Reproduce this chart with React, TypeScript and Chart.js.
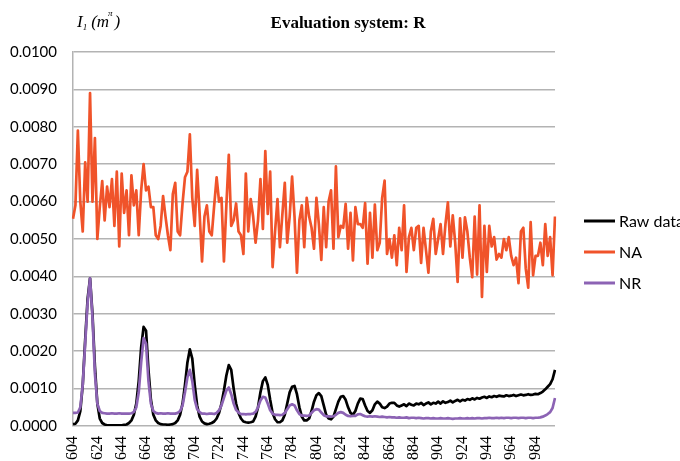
import React, { useEffect, useRef } from "react";
import { Chart, registerables } from "chart.js";

Chart.register(...registerables);

// Wavelength categories: 604 .. 1000 in steps of 2
const START_WL = 604;
const STEP_WL = 2;

const rawData = [
  0.00005, 0.00006, 0.00015, 0.0004, 0.0011, 0.0023, 0.0034, 0.00395, 0.003, 0.0016,
  0.0006, 0.0002, 0.00008, 0.00004, 0.00002, 0.00002, 0.00002, 0.00002, 0.00002, 0.00002,
  0.00002, 0.00003, 0.00004, 0.00008, 0.00015, 0.0003, 0.0006, 0.0012, 0.0021, 0.00265,
  0.00255, 0.0015, 0.0007, 0.0003, 0.00015, 0.00008, 0.00005, 0.00004, 0.00004, 0.00003,
  0.00004, 0.00005, 0.00008, 0.00015, 0.0003, 0.0006, 0.0011, 0.0017, 0.00205, 0.0018,
  0.0011, 0.00055, 0.00025, 0.00012, 0.00007, 0.00005, 0.00006, 0.00008, 0.00012, 0.0002,
  0.00035, 0.0006, 0.00095, 0.00135, 0.00163, 0.0015, 0.001, 0.0006, 0.00035, 0.0002,
  0.00012, 0.0001, 0.00009, 0.0001, 0.00012, 0.00025, 0.0005, 0.0009, 0.0012, 0.0013,
  0.0011, 0.0007, 0.00035, 0.00018, 0.0001, 0.0001, 0.00015, 0.0003, 0.0006, 0.0009,
  0.00105, 0.00107, 0.00085, 0.0005, 0.00025, 0.00015, 0.00015, 0.0002, 0.0004, 0.00065,
  0.00082, 0.00088, 0.0008, 0.00055, 0.0003, 0.0002, 0.00018, 0.00025, 0.00045, 0.00065,
  0.00078, 0.0008, 0.0007, 0.0005, 0.00035, 0.0003, 0.0004, 0.0006, 0.00073, 0.00072,
  0.00055, 0.0004, 0.00035, 0.00042, 0.00058, 0.00065, 0.0006, 0.0005, 0.00048, 0.00052,
  0.0006, 0.00062, 0.00062, 0.00055, 0.00052, 0.00055, 0.00058, 0.00053, 0.0006, 0.00057,
  0.00055, 0.0006, 0.00058, 0.00062, 0.00056, 0.0006, 0.00063, 0.00058, 0.00062, 0.0006,
  0.00065, 0.0006, 0.00066, 0.00062, 0.00064, 0.00068, 0.00063, 0.00067, 0.0007, 0.00066,
  0.0007, 0.00068, 0.00072, 0.0007, 0.00074, 0.00071, 0.00075, 0.00073, 0.00076, 0.00078,
  0.00075, 0.00079, 0.00077, 0.0008, 0.00078, 0.00081, 0.0008, 0.00079, 0.00082, 0.0008,
  0.00081, 0.00083, 0.0008, 0.00082, 0.00084, 0.00082, 0.00083, 0.00085, 0.00083, 0.00084,
  0.00086, 0.00085, 0.00088, 0.00092, 0.00098, 0.00105, 0.00112, 0.00125, 0.0015,
];

const naData = [
  0.00554, 0.0059, 0.0079, 0.006, 0.0052, 0.00705, 0.006, 0.0089, 0.006, 0.0077,
  0.005, 0.00585, 0.00655, 0.0055, 0.0064, 0.00585, 0.0066, 0.00535, 0.0068, 0.0048,
  0.00675, 0.0057, 0.0063, 0.0051, 0.0067, 0.0059, 0.0063, 0.0051, 0.0063, 0.007,
  0.0063, 0.0064, 0.00585, 0.00585, 0.0051, 0.005, 0.00535, 0.00615, 0.0056, 0.0051,
  0.0047, 0.0062, 0.0065, 0.0052, 0.0051, 0.00595, 0.00665, 0.0068, 0.0078, 0.0061,
  0.00535, 0.00685, 0.0057, 0.0044, 0.0056, 0.0059, 0.0052, 0.0051, 0.0059, 0.00665,
  0.006, 0.0061, 0.0044, 0.0059, 0.00725, 0.00535, 0.0055, 0.00595, 0.0052, 0.0051,
  0.0046, 0.00675, 0.0052, 0.00607, 0.0056, 0.0049, 0.0055, 0.0066, 0.00527, 0.00735,
  0.00567, 0.0068, 0.00425, 0.0052, 0.00607, 0.00478, 0.00565, 0.0065, 0.0049, 0.0056,
  0.00667, 0.0056, 0.0041, 0.0055, 0.0059, 0.00478, 0.0061, 0.0056, 0.0053, 0.00474,
  0.0061, 0.0054, 0.00444, 0.00585, 0.00478, 0.006, 0.0063, 0.00474, 0.00694, 0.00505,
  0.00535, 0.0053, 0.00594, 0.00474, 0.0057, 0.00443, 0.00585, 0.0054, 0.0054, 0.0053,
  0.00596, 0.00434, 0.0057, 0.0045, 0.00592, 0.0047, 0.0049, 0.0061, 0.00656, 0.0046,
  0.005, 0.0045, 0.0051, 0.0043, 0.0053, 0.0047, 0.0059, 0.00412, 0.00505, 0.0053,
  0.0047, 0.0053, 0.00535, 0.00436, 0.0053, 0.0047, 0.0041, 0.0052, 0.00554, 0.0046,
  0.005, 0.0054, 0.0046, 0.0054, 0.00598, 0.0048, 0.00563, 0.0049, 0.00385, 0.00555,
  0.0045, 0.00558, 0.0052, 0.0045, 0.00398, 0.0056, 0.00405, 0.0059, 0.00345, 0.00535,
  0.00412, 0.00535, 0.0048, 0.00505, 0.00445, 0.0046, 0.0045, 0.005, 0.0047, 0.00505,
  0.00455, 0.0043, 0.0045, 0.00382, 0.0052, 0.0053, 0.0042, 0.0037, 0.00545, 0.00403,
  0.00455, 0.00455, 0.0049, 0.0043, 0.0054, 0.00455, 0.00505, 0.00403, 0.0056,
];

const nrData = [
  0.00035, 0.00035, 0.00036, 0.0005, 0.0011, 0.0022, 0.0033, 0.00395, 0.0029, 0.0014,
  0.0006, 0.0004, 0.00035, 0.00034, 0.00033, 0.00033, 0.00034, 0.00033, 0.00033, 0.00034,
  0.00033, 0.00033, 0.00033, 0.00033, 0.00034, 0.00038, 0.0005, 0.0009, 0.0017, 0.00235,
  0.0022, 0.0012, 0.0006, 0.0004, 0.00035, 0.00033, 0.00034, 0.00033, 0.00033, 0.00034,
  0.00033, 0.00033, 0.00033, 0.00035, 0.0004, 0.00055, 0.0009, 0.0013, 0.0015, 0.0012,
  0.0007, 0.00045, 0.00037, 0.00033, 0.00033, 0.00032, 0.00033, 0.00033, 0.00032, 0.00035,
  0.00042, 0.00055, 0.00075, 0.00095, 0.00103, 0.00085, 0.0006, 0.00043, 0.00036, 0.00032,
  0.00032, 0.00031, 0.00032, 0.00032, 0.00033, 0.00038, 0.0005, 0.00068, 0.00078, 0.00076,
  0.0006, 0.00042, 0.00033, 0.0003, 0.0003, 0.00029, 0.0003, 0.00035, 0.00045, 0.00055,
  0.00058, 0.00055, 0.00042, 0.00032, 0.00028, 0.00028, 0.00027, 0.00028, 0.00035, 0.00042,
  0.00045, 0.00044, 0.00036, 0.00029, 0.00026, 0.00026, 0.00025, 0.00026, 0.0003, 0.00035,
  0.00037, 0.00035, 0.0003, 0.00027, 0.00026, 0.00027, 0.00027, 0.00031, 0.00032, 0.00029,
  0.00026, 0.00025, 0.00026, 0.00025, 0.00026, 0.00025, 0.00024, 0.00025, 0.00024, 0.00023,
  0.00024, 0.00023, 0.00023, 0.00022, 0.00023, 0.00022, 0.00022, 0.00023, 0.00021, 0.00022,
  0.00022, 0.00021, 0.00022, 0.00021, 0.0002, 0.00021, 0.00021, 0.0002, 0.00021, 0.0002,
  0.0002, 0.00021, 0.0002, 0.0002, 0.00021, 0.0002, 0.00019, 0.0002, 0.0002, 0.00021,
  0.0002, 0.0002, 0.00021, 0.0002, 0.00021, 0.0002, 0.00021, 0.00021, 0.0002, 0.00021,
  0.00021, 0.00022, 0.00021, 0.00021, 0.00022, 0.00021, 0.00022, 0.00021, 0.00022, 0.00022,
  0.00021, 0.00022, 0.00022, 0.00021, 0.00022, 0.00022, 0.00021, 0.00022, 0.00022, 0.00021,
  0.00022, 0.00022, 0.00023, 0.00025, 0.00028, 0.00032, 0.00037, 0.00048, 0.00075,
];

const categories = rawData.map((_, i) => String(START_WL + STEP_WL * i));
const LABEL_EVERY = 10; // one label per 20 nm

const TITLE = "Evaluation system: R";
const SERIES_NAMES = ["Raw data", "NA", "NR"];
const SERIES_COLORS = ["#000000", "#F0532A", "#8C63B4"];
const Y_MIN = 0;
const Y_MAX = 0.01;
const Y_STEP = 0.001;

const SERIF = "'Liberation Serif', 'DejaVu Serif', serif";
const SANS = "Lato, 'Open Sans', sans-serif";
const GRID = "#b3b3b3";

const overlayPlugin = {
  id: "overlay",
  afterDraw(chart: any) {
    const ctx = chart.ctx as CanvasRenderingContext2D;
    ctx.save();
    ctx.fillStyle = "#000";
    ctx.textBaseline = "alphabetic";
    // Title
    ctx.font = `bold 17px ${SERIF}`;
    ctx.textAlign = "center";
    ctx.fillText(TITLE, 348, 28);
    // Y-axis title: I1 (m^π)
    ctx.textAlign = "left";
    let x = 77;
    ctx.font = `italic 17px ${SERIF}`;
    ctx.fillText("I", x, 27);
    x += ctx.measureText("I").width;
    ctx.font = `italic 9px ${SERIF}`;
    ctx.fillText("1", x, 30);
    x += ctx.measureText("1").width + 4;
    ctx.font = `italic 17px ${SERIF}`;
    ctx.fillText("(m", x, 27);
    x += ctx.measureText("(m").width;
    ctx.font = `italic 9px ${SERIF}`;
    ctx.fillText("\u03C0", x - 1, 16);
    x += ctx.measureText("\u03C0").width + 1;
    ctx.font = `italic 17px ${SERIF}`;
    ctx.fillText(")", x, 27);
    // Legend
    const legendY = [221, 252, 283];
    ctx.font = `16px ${SANS}`;
    ctx.textBaseline = "middle";
    SERIES_NAMES.forEach((name, i) => {
      ctx.strokeStyle = SERIES_COLORS[i];
      ctx.lineWidth = 3;
      ctx.beginPath();
      ctx.moveTo(584, legendY[i]);
      ctx.lineTo(615, legendY[i]);
      ctx.stroke();
      ctx.fillStyle = "#000";
      ctx.fillText(name, 619, legendY[i] + 1);
    });
    ctx.restore();
  },
};

export default function App() {
  const ref = useRef<HTMLCanvasElement>(null);
  useEffect(() => {
    const values = [rawData, naData, nrData];
    const orders = [2, 3, 1];
    const chart = new Chart(ref.current as HTMLCanvasElement, {
      type: "line",
      data: {
        labels: categories,
        datasets: SERIES_NAMES.map((name, i) => ({
          label: name,
          data: values[i],
          borderColor: SERIES_COLORS[i],
          backgroundColor: SERIES_COLORS[i],
          borderWidth: 2.7,
          pointRadius: 0,
          tension: 0,
          fill: false,
          order: orders[i],
          borderJoinStyle: "round" as const,
        })),
      },
      options: {
        responsive: false,
        animation: false,
        layout: { padding: { top: 52, right: 125, left: 0, bottom: 0 } },
        plugins: {
          legend: { display: false },
          title: { display: false },
          tooltip: { enabled: false },
        },
        scales: {
          x: {
            type: "category",
            grid: { display: false, drawTicks: false },
            border: { display: false },
            afterFit: (scale: any) => {
              scale.height = 35;
            },
            ticks: {
              autoSkip: false,
              minRotation: 90,
              maxRotation: 90,
              padding: 10,
              color: "#000",
              font: { family: SERIF, size: 16 },
              callback: (_v: any, idx: number) => (idx % LABEL_EVERY === 0 ? categories[idx] : ""),
            },
          },
          y: {
            min: Y_MIN,
            max: Y_MAX,
            afterFit: (scale: any) => {
              scale.width = 73;
            },
            grid: { color: GRID, lineWidth: 1.5, drawTicks: false },
            border: { display: true, color: GRID, width: 1.5 },
            ticks: {
              stepSize: Y_STEP,
              padding: 16,
              color: "#000",
              font: { family: SANS, size: 15 },
              callback: (v: any) => Number(v).toFixed(4),
            },
          },
        },
      },
      plugins: [overlayPlugin],
    });
    return () => chart.destroy();
  }, []);
  return (
    <div style={{ position: "fixed", left: 0, top: 0, width: 680, height: 461, background: "#fff" }}>
      <canvas ref={ref} width={680} height={461} style={{ display: "block", width: 680, height: 461 }} />
    </div>
  );
}
